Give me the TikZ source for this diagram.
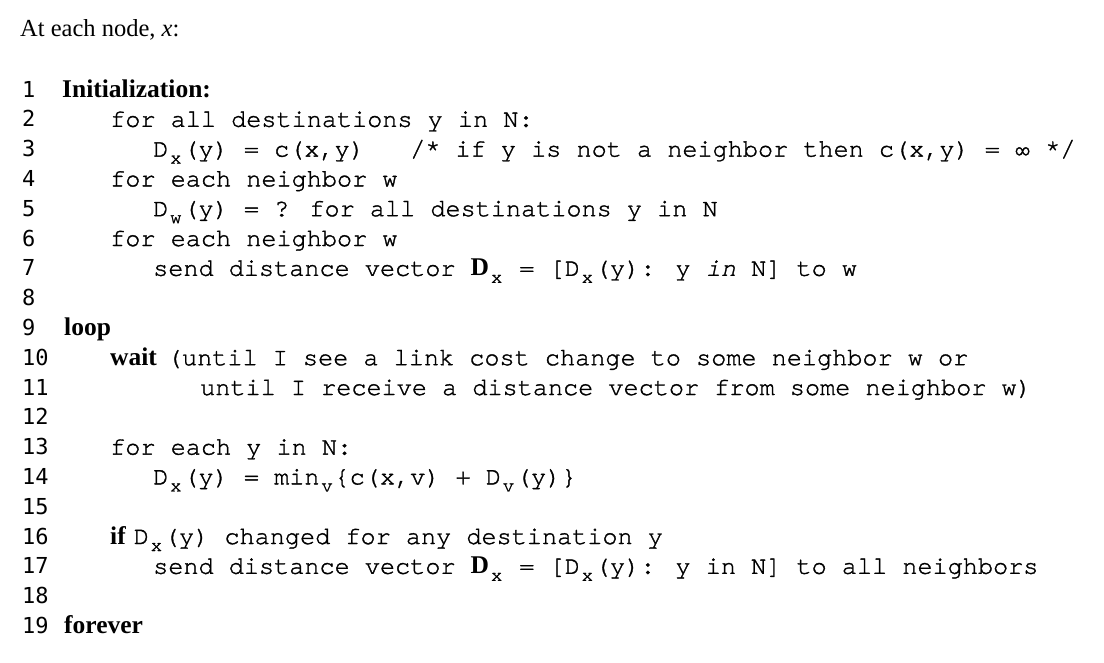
\documentclass[tikz,border=0pt]{standalone}
\usepackage{fontspec}
\setmainfont{Liberation Serif}
\newfontfamily\codefont[FakeBold=1.3]{TeX Gyre Cursor}
\newfontfamily\numfont{DejaVu Sans Mono}
\newcommand{\sbx}[1]{\raisebox{-7pt}{\makebox[15.1pt][c]{\fontsize{19}{19}\selectfont #1}}}
\newcommand{\kw}[1]{{\rmfamily\bfseries\fontsize{25.5}{30}\selectfont #1}}
\tikzset{
  lnum/.style={anchor=base west, inner sep=0pt, font=\numfont\fontsize{22}{24}\selectfont},
  code/.style={anchor=base west, inner sep=0pt, font=\codefont\fontsize{25.2}{30}\selectfont},
}

\begin{document}
\begin{tikzpicture}[x=1pt, y=1pt]
				\useasboundingbox[fill=white] (0,0) rectangle (1104,-662);
				\node[anchor=base west, inner sep=0pt, font=\fontsize{24.5}{30}\selectfont] (head)at(20, -36) {At each node, \textit{x}:};
				\node[lnum] (n1)at(22, -97) {1};
				\node[code] (l1)at(62, -97) {\kw{Initialization:}};
				\node[lnum] (n2)at(22, -126.8) {2};
				\node[code] (l2)at(110, -126.8) {for all destinations y in N:};
				\node[lnum] (n3)at(22, -156.6) {3};
				\node[code] (l3)at(153, -156.6) {D\sbx{x}(y) = c(x,y)~~~/* if y is not a neighbor then c(x,y) = ∞ */};
				\node[lnum] (n4)at(22, -186.4) {4};
				\node[code] (l4)at(110, -186.4) {for each neighbor w};
				\node[lnum] (n5)at(22, -216.2) {5};
				\node[code] (l5)at(153, -216.2) {D\sbx{w}(y) = ? for all destinations y in N};
				\node[lnum] (n6)at(22, -246) {6};
				\node[code] (l6)at(110, -246) {for each neighbor w};
				\node[lnum] (n7)at(22, -275.8) {7};
				\node[code] (l7)at(153, -275.8) {send distance vector \kw{D}\sbx{x} = [D\sbx{x}(y): y {\itshape in} N] to w};
				\node[lnum] (n8)at(22, -305.6) {8};
				\node[lnum] (n9)at(22, -335.4) {9};
				\node[code] (l9)at(64, -335.4) {\kw{loop}};
				\node[lnum] (n10)at(22, -365.2) {10};
				\node[code] (l10)at(110, -365.2) {\kw{wait}\hspace{10pt}(until I see a link cost change to some neighbor w or};
				\node[lnum] (n11)at(22, -395) {11};
				\node[code] (l11)at(200, -395) {until I receive a distance vector from some neighbor w)};
				\node[lnum] (n12)at(22, -424.8) {12};
				\node[lnum] (n13)at(22, -454.6) {13};
				\node[code] (l13)at(110, -454.6) {for each y in N:};
				\node[lnum] (n14)at(22, -484.4) {14};
				\node[code] (l14)at(153, -484.4) {D\sbx{x}(y) = min\sbx{v}\{c(x,v) + D\sbx{v}(y)\}};
				\node[lnum] (n15)at(22, -514.2) {15};
				\node[lnum] (n16)at(22, -544) {16};
				\node[code] (l16)at(110, -544) {\kw{if}\hspace{8pt}D\sbx{x}(y) changed for any destination y};
				\node[lnum] (n17)at(22, -573.8) {17};
				\node[code] (l17)at(153, -573.8) {send distance vector \kw{D}\sbx{x} = [D\sbx{x}(y): y in N] to all neighbors};
				\node[lnum] (n18)at(22, -603.6) {18};
				\node[lnum] (n19)at(22, -633.4) {19};
				\node[code] (l19)at(64, -633.4) {\kw{forever}};
			\end{tikzpicture}
\end{document}
